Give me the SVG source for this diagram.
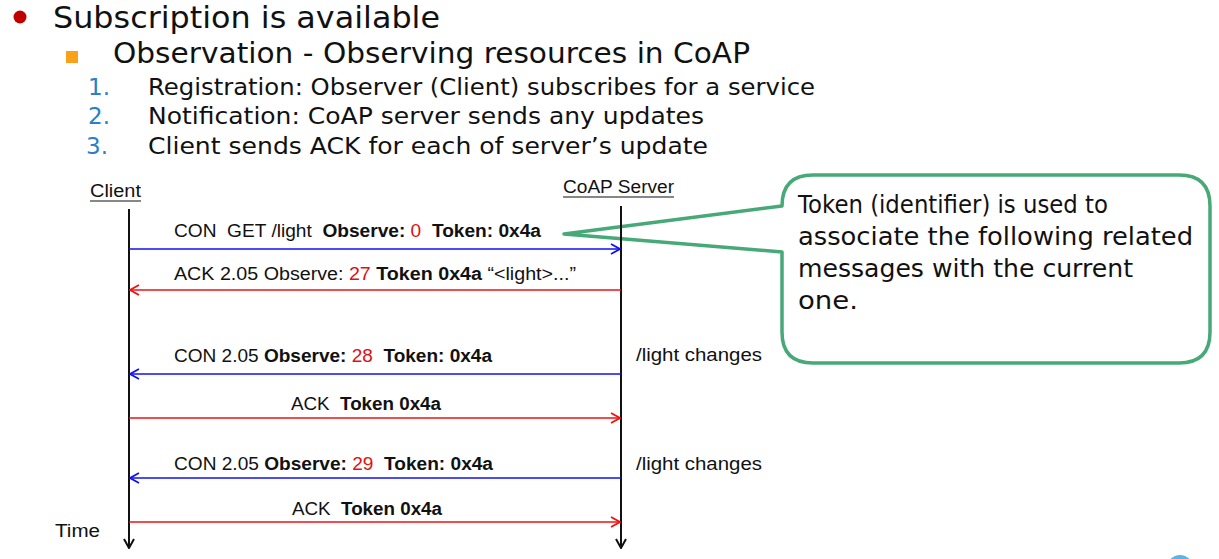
<svg xmlns="http://www.w3.org/2000/svg" width="1219" height="559" viewBox="0 0 1219 559">
<defs>
<style>
.h{font-family:"DejaVu Sans","Liberation Sans",sans-serif;fill:#111}
.n{font-family:"DejaVu Sans","Liberation Sans",sans-serif;fill:#2a7fc6}
.l{font-family:"Liberation Sans",Arial,sans-serif;font-size:17.5px;fill:#111;white-space:pre}
.b{font-weight:bold}
.r{fill:#e01010}
.life{stroke:#111;stroke-width:2;fill:none}
.blue{stroke:#1010f0;stroke-width:1.6;fill:none}
.red{stroke:#f01010;stroke-width:1.6;fill:none}
.call{fill:#fff;stroke:#47a878;stroke-width:3.5;stroke-linejoin:round}
</style>
<marker id="ab" viewBox="0 0 12 12" refX="11" refY="6" markerWidth="12" markerHeight="12" markerUnits="userSpaceOnUse" orient="auto"><path d="M2,1 L11,6 L2,11" fill="none" stroke="#1010f0" stroke-width="1.8"/></marker>
<marker id="ar" viewBox="0 0 12 12" refX="11" refY="6" markerWidth="12" markerHeight="12" markerUnits="userSpaceOnUse" orient="auto"><path d="M2,1 L11,6 L2,11" fill="none" stroke="#f01010" stroke-width="1.8"/></marker>
<marker id="ak" viewBox="0 0 12 12" refX="11" refY="6" markerWidth="12" markerHeight="12" markerUnits="userSpaceOnUse" orient="auto"><path d="M2,1 L11,6 L2,11" fill="none" stroke="#111" stroke-width="2"/></marker>
</defs>
<rect width="1219" height="559" fill="#fff"/>

<g id="header">
<circle cx="20" cy="17" r="6.5" fill="#c00000"/>
<text class="h" x="53" y="28" font-size="31" textLength="387" lengthAdjust="spacingAndGlyphs">Subscription is available</text>
<rect x="66" y="51" width="12" height="12" fill="#f9a11b"/>
<text class="h" x="113" y="63" font-size="28" textLength="637" lengthAdjust="spacingAndGlyphs">Observation - Observing resources in CoAP</text>
<text class="n" x="88" y="95" font-size="23">1.</text>
<text class="h" x="148" y="95" font-size="23" textLength="667" lengthAdjust="spacingAndGlyphs">Registration: Observer (Client) subscribes for a service</text>
<text class="n" x="88" y="124" font-size="23">2.</text>
<text class="h" x="148" y="124" font-size="23" textLength="556" lengthAdjust="spacingAndGlyphs">Notification: CoAP server sends any updates</text>
<text class="n" x="86" y="154" font-size="23">3.</text>
<text class="h" x="148" y="154" font-size="23" textLength="560" lengthAdjust="spacingAndGlyphs">Client sends ACK for each of server’s update</text>
</g>

<g id="callout">
<path class="call" d="M813,175 H1179 Q1210,175 1210,206 V332 Q1210,363 1179,363 H813 Q782,363 782,332 V252 L564,234 L782,206 Q782,175 813,175 Z"/>
<text class="h" font-size="24">
<tspan x="798" y="213" textLength="310" lengthAdjust="spacingAndGlyphs">Token (identifier) is used to</tspan>
<tspan x="798" y="245" textLength="395" lengthAdjust="spacingAndGlyphs">associate the following related</tspan>
<tspan x="798" y="277" textLength="335" lengthAdjust="spacingAndGlyphs">messages with the current</tspan>
<tspan x="798" y="309" textLength="60" lengthAdjust="spacingAndGlyphs">one.</tspan>
</text>
</g>

<g id="client">
<text class="l" x="90" y="197" textLength="51" lengthAdjust="spacingAndGlyphs">Client</text>
<line x1="90" y1="201" x2="141" y2="201" stroke="#111" stroke-width="1.2"/>
</g>
<g id="server">
<text class="l" x="563" y="193" textLength="111" lengthAdjust="spacingAndGlyphs">CoAP Server</text>
<line x1="563" y1="197" x2="674" y2="197" stroke="#111" stroke-width="1.2"/>
</g>
<g id="time"><text class="l" x="55" y="537" textLength="45" lengthAdjust="spacingAndGlyphs">Time</text></g>

<g id="connectors">
<line class="life" x1="129" y1="209" x2="129" y2="548" marker-end="url(#ak)"/>
<line class="life" x1="621" y1="206" x2="621" y2="548" marker-end="url(#ak)"/>
<line class="blue" x1="129" y1="249" x2="620" y2="249" marker-end="url(#ab)"/>
<line class="red" x1="621" y1="290" x2="130" y2="290" marker-end="url(#ar)"/>
<line class="blue" x1="621" y1="374" x2="130" y2="374" marker-end="url(#ab)"/>
<line class="red" x1="129" y1="418" x2="620" y2="418" marker-end="url(#ar)"/>
<line class="blue" x1="621" y1="478" x2="130" y2="478" marker-end="url(#ab)"/>
<line class="red" x1="129" y1="522" x2="620" y2="522" marker-end="url(#ar)"/>
</g>

<g id="labels">
<text class="l" x="174" y="237" textLength="367" lengthAdjust="spacingAndGlyphs">CON  GET /light  <tspan class="b">Observe: </tspan><tspan class="r">0</tspan>  <tspan class="b">Token: 0x4a</tspan></text>
<text class="l" x="174" y="280" textLength="402" lengthAdjust="spacingAndGlyphs">ACK 2.05 Observe: <tspan class="r">27</tspan> <tspan class="b">Token 0x4a</tspan> “&lt;light&gt;...”</text>
<text class="l" x="174" y="362" textLength="318" lengthAdjust="spacingAndGlyphs">CON 2.05 <tspan class="b">Observe: </tspan><tspan class="r">28</tspan>  <tspan class="b">Token: 0x4a</tspan></text>
<text class="l" x="291" y="410" textLength="150" lengthAdjust="spacingAndGlyphs">ACK  <tspan class="b">Token 0x4a</tspan></text>
<text class="l" x="174" y="470" textLength="319" lengthAdjust="spacingAndGlyphs">CON 2.05 <tspan class="b">Observe: </tspan><tspan class="r">29</tspan>  <tspan class="b">Token: 0x4a</tspan></text>
<text class="l" x="292" y="515" textLength="150" lengthAdjust="spacingAndGlyphs">ACK  <tspan class="b">Token 0x4a</tspan></text>
<text class="l" x="636" y="361" textLength="126" lengthAdjust="spacingAndGlyphs">/light changes</text>
<text class="l" x="636" y="470" textLength="126" lengthAdjust="spacingAndGlyphs">/light changes</text>
</g>

<circle cx="1180" cy="568" r="13" fill="#5bb5e0"/>
</svg>
